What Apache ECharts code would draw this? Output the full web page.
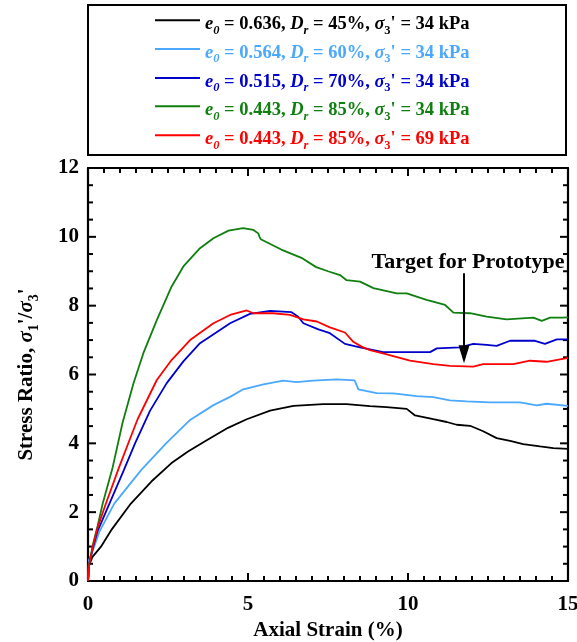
<!DOCTYPE html>
<html>
<head>
<meta charset="utf-8">
<script src="https://cdn.jsdelivr.net/npm/echarts@6/dist/echarts.min.js"></script>
<style>
  html, body { margin: 0; padding: 0; background: #fff; }
  #chart { width: 577px; height: 642px; }
</style>
</head>
<body>
<div id="chart"></div>
<script>
// Triaxial test results: stress ratio vs axial strain for five specimens.
const FONT = 'Liberation Serif';

// [axial strain (%), stress ratio σ1'/σ3']
const curveDr45 = [[0,0],[0.03,0.45],[0.14,0.70],[0.4,0.99],[0.72,1.47],[1.34,2.25],[1.98,2.89],[2.6,3.42],[3.125,3.76],[3.71,4.09],[4.375,4.45],[4.96,4.70],[5.69,4.95],[6.42,5.09],[7.35,5.14],[8.08,5.14],[8.81,5.08],[9.33,5.05],[9.96,5.00],[10.22,4.81],[10.79,4.70],[11.21,4.62],[11.52,4.54],[11.94,4.51],[12.35,4.35],[12.77,4.15],[13.19,4.07],[13.6,3.98],[14.125,3.91],[14.54,3.86],[15,3.84]];
const curveDr60 = [[0,0],[0.03,0.6],[0.19,0.99],[0.35,1.42],[0.82,2.25],[1.66,3.22],[2.44,4.0],[3.19,4.68],[3.92,5.11],[4.44,5.35],[4.85,5.57],[5.48,5.71],[6.1,5.82],[6.52,5.78],[7.04,5.82],[7.77,5.86],[8.33,5.83],[8.45,5.57],[9.02,5.46],[9.54,5.45],[10.27,5.37],[10.79,5.34],[11.31,5.25],[11.83,5.22],[12.56,5.19],[13.5,5.19],[14.02,5.10],[14.33,5.15],[15,5.09]];
const curveDr70 = [[0,0],[0.04,0.5],[0.15,0.95],[0.3,1.45],[0.67,2.25],[1.12,3.22],[1.47,4.0],[1.94,4.95],[2.46,5.75],[2.98,6.38],[3.5,6.91],[4.125,7.29],[4.44,7.49],[5.06,7.76],[5.69,7.85],[6.36,7.81],[6.57,7.68],[6.73,7.49],[7.2,7.31],[7.56,7.20],[8.03,6.89],[8.5,6.79],[9.23,6.65],[10.69,6.65],[10.9,6.76],[11.625,6.79],[12.04,6.89],[12.46,6.86],[12.77,6.83],[13.19,6.98],[13.97,6.98],[14.28,6.89],[14.65,7.02],[15,7.02]];
const curveDr85 = [[0,0],[0.04,0.5],[0.15,1.05],[0.3,1.6],[0.46,2.25],[0.77,3.3],[1.08,4.6],[1.42,5.74],[1.73,6.62],[2.15,7.58],[2.61,8.55],[2.98,9.14],[3.5,9.67],[3.92,9.96],[4.39,10.18],[4.85,10.25],[5.17,10.2],[5.32,10.1],[5.36,10.0],[5.40,9.93],[6.04,9.63],[6.67,9.39],[7.13,9.12],[7.5,9.0],[7.875,8.89],[8.08,8.74],[8.5,8.70],[8.92,8.51],[9.65,8.36],[9.96,8.36],[10.58,8.17],[11.16,8.02],[11.42,7.80],[11.94,7.78],[12.46,7.68],[13.08,7.60],[13.92,7.65],[14.18,7.56],[14.44,7.65],[14.83,7.65],[15,7.66]];
const curveDr85High = [[0,0],[0.04,0.5],[0.15,1.0],[0.3,1.55],[0.56,2.25],[0.97,3.3],[1.25,3.98],[1.55,4.7],[2.15,5.84],[2.61,6.42],[3.19,7.0],[3.92,7.49],[4.44,7.73],[4.96,7.86],[5.17,7.78],[5.79,7.78],[6.31,7.73],[6.73,7.6],[7.15,7.54],[7.56,7.37],[8.03,7.22],[8.29,6.95],[8.55,6.81],[8.81,6.71],[9.28,6.60],[10.06,6.40],[10.79,6.30],[11.31,6.25],[12.04,6.23],[12.35,6.30],[13.29,6.30],[13.81,6.40],[14.33,6.37],[15,6.48]];

// Specimen descriptors used in the legend
const voidRatios = ['0.636', '0.564', '0.515', '0.443', '0.443'];
const relDensities = ['45%', '60%', '70%', '85%', '85%'];
const confining = ['34', '34', '34', '34', '69'];
const seriesNames = ['S1', 'S2', 'S3', 'S4', 'S5'];
const colors = ['#000000', '#4aa8ff', '#0000cc', '#0f7f0f', '#ff0000'];

// Axis ranges and tick values
const xRange = [0, 15];
const yRange = [0, 12];
const xMajorTicks = [0, 5, 10, 15];
const yMajorTicks = [0, 2, 4, 6, 8, 10, 12];
const minorStep = 0.5;

// Annotation: arrow pointing at the prototype target
const targetText = 'Target for Prototype';
const targetTextAt = [11.875, 9.27];
const arrowFrom = [11.75, 8.94];
const arrowHeadAt = [11.75, 6.585];

const curves = [curveDr45, curveDr60, curveDr70, curveDr85, curveDr85High];
const legendRowCenters = [22.3, 51, 80, 108.3, 137.3];

// Rich-text styles: main text, italic, and lowered subscripts
function richFor(color, size, subSize, mainPad, lineH) {
  const base = { fontFamily: FONT, fontWeight: 'bold', color: color, fontSize: size, verticalAlign: 'top', lineHeight: size, padding: [mainPad, 0, 0, 0] };
  const sub = { fontFamily: FONT, fontWeight: 'bold', color: color, fontSize: subSize, verticalAlign: 'bottom', lineHeight: lineH };
  return {
    n: Object.assign({}, base),
    it: Object.assign({}, base, { fontStyle: 'italic' }),
    si: Object.assign({}, sub, { fontStyle: 'italic' }),
    sn: Object.assign({}, sub)
  };
}

const legends = seriesNames.map((name, i) => ({
  data: [name],
  left: 155,
  top: legendRowCenters[i] - 18.5,
  padding: 0,
  icon: 'rect',
  itemWidth: 45,
  itemHeight: 2,
  itemGap: 0,
  selectedMode: false,
  formatter: () =>
    '{it|e}{si|0}{n| = ' + voidRatios[i] + ', }{it|D}{si|r}{n| = ' + relDensities[i] +
    ', }{it|σ}{sn|3}{n|\' = ' + confining[i] + ' kPa}',
  textStyle: { color: colors[i], fontFamily: FONT, fontWeight: 'bold', fontSize: 18.5, rich: richFor(colors[i], 18.5, 12.5, 11, 33) }
}));

const series = curves.map((c, i) => ({
  name: seriesNames[i],
  type: 'line',
  data: c,
  symbol: 'none',
  showSymbol: false,
  lineStyle: { color: colors[i], width: 1.8 },
  itemStyle: { color: colors[i] },
  silent: true
}));

series[4].markLine = {
  silent: true,
  symbol: ['none', 'none'],
  lineStyle: { color: '#000', width: 2, type: 'solid' },
  label: { show: false },
  data: [[{ coord: arrowFrom }, { coord: arrowHeadAt }]]
};
series[4].markPoint = {
  silent: true,
  data: [{
    coord: targetTextAt,
    symbol: 'circle',
    symbolSize: 0,
    label: { show: true, position: 'inside', formatter: targetText, color: '#000', fontFamily: FONT, fontWeight: 'bold', fontSize: 22 }
  }, {
    coord: arrowHeadAt,
    symbol: 'triangle',
    symbolSize: [11, 18],
    symbolRotate: 180,
    itemStyle: { color: '#000' },
    label: { show: false }
  }]
};

// Inward tick marks on all four sides of the frame.
// kind: 0 = x major, 1 = x minor, 2 = y major, 3 = y minor
const tickItems = [];
xMajorTicks.forEach(v => tickItems.push([v, 0]));
yMajorTicks.forEach(v => tickItems.push([v, 2]));
for (let v = xRange[0] + minorStep; v < xRange[1]; v += minorStep) {
  if (!xMajorTicks.includes(v)) tickItems.push([v, 1]);
}
for (let v = yRange[0] + minorStep; v < yRange[1]; v += minorStep) {
  if (!yMajorTicks.includes(v)) tickItems.push([v, 3]);
}
const tickStyle = { stroke: '#000', lineWidth: 2 };
series.push({
  type: 'custom',
  silent: true,
  z: 3,
  data: tickItems,
  renderItem: (params, api) => {
    const v = api.value(0);
    const kind = api.value(1);
    const len = (kind === 0 || kind === 2) ? 8 : 5;
    if (kind < 2) {
      const a = api.coord([v, yRange[0]]);
      const b = api.coord([v, yRange[1]]);
      return { type: 'group', children: [
        { type: 'line', shape: { x1: a[0], y1: a[1], x2: a[0], y2: a[1] - len }, style: tickStyle },
        { type: 'line', shape: { x1: b[0], y1: b[1], x2: b[0], y2: b[1] + len }, style: tickStyle }
      ] };
    }
    const a = api.coord([xRange[0], v]);
    const b = api.coord([xRange[1], v]);
    return { type: 'group', children: [
      { type: 'line', shape: { x1: a[0], y1: a[1], x2: a[0] + len, y2: a[1] }, style: tickStyle },
      { type: 'line', shape: { x1: b[0], y1: b[1], x2: b[0] - len, y2: b[1] }, style: tickStyle }
    ] };
  }
});

const lineStyleBlack = { color: '#000', width: 2.2 };
const labelFont = { fontFamily: FONT, fontWeight: 'bold', fontSize: 21, color: '#000' };

function frameAxis(extra) {
  return Object.assign({
    type: 'value',
    axisLine: { show: true, onZero: false, lineStyle: lineStyleBlack },
    axisTick: { show: false },
    axisLabel: { show: false },
    splitLine: { show: false }
  }, extra);
}

const option = {
  animation: false,
  backgroundColor: '#fff',
  grid: { left: 88, right: 9, top: 168, bottom: 61, containLabel: false, outerBoundsMode: 'none' },
  legend: legends,
  graphic: [{
    type: 'rect',
    shape: { x: 88, y: 5, width: 478, height: 150 },
    style: { fill: 'none', stroke: '#000', lineWidth: 2 },
    silent: true
  }],
  xAxis: [
    frameAxis({
      min: xRange[0], max: xRange[1], interval: 5, position: 'bottom',
      name: 'Axial Strain (%)', nameLocation: 'middle', nameGap: 38,
      nameTextStyle: labelFont,
      axisLabel: Object.assign({ show: true, margin: 13 }, labelFont)
    }),
    frameAxis({ min: xRange[0], max: xRange[1], interval: 5, position: 'top' })
  ],
  yAxis: [
    frameAxis({
      min: yRange[0], max: yRange[1], interval: 2, position: 'left',
      name: '{n|Stress Ratio, }{it|σ}{sn|1}{n|\'/}{it|σ}{sn|3}{n|\'}',
      nameLocation: 'middle', nameGap: 47, nameRotate: 90,
      nameTextStyle: Object.assign({}, labelFont, { rich: richFor('#000', 21, 14, 0, 25) }),
      axisLabel: Object.assign({ show: true, margin: 9 }, labelFont)
    }),
    frameAxis({ min: yRange[0], max: yRange[1], interval: 2, position: 'right' })
  ],
  series: series
};

const chart = echarts.init(document.getElementById('chart'), null, { renderer: 'canvas' });
chart.setOption(option);
</script>
</body>
</html>
